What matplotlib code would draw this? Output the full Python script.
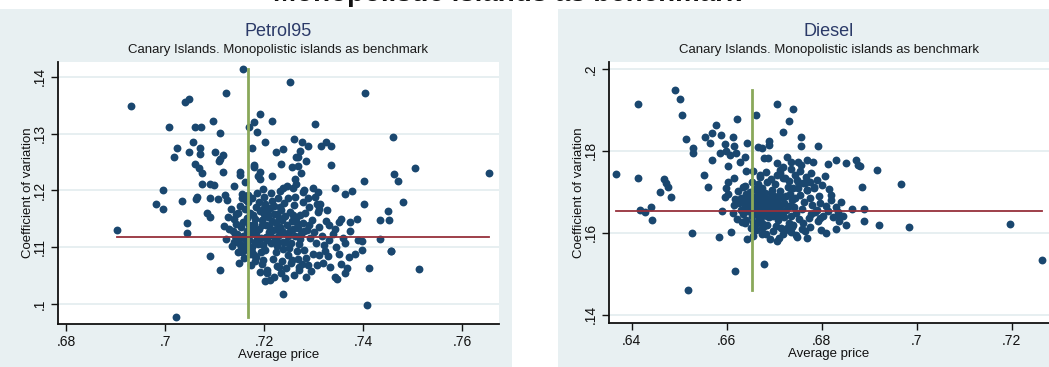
import numpy as np
import matplotlib.pyplot as plt
from matplotlib.patches import Rectangle
from matplotlib.ticker import FuncFormatter

plt.rcParams['font.family'] = ['Liberation Sans', 'DejaVu Sans']

# Petrol95: (average price, coefficient of variation) per station
petrol_points = [
    (.7158, .1414), (.7252, .1390), (.7404, .1372), (.6931, .1348), (.7124, .1372), (.7041, .1355),
    (.7049, .1361), (.7008, .1311), (.7061, .1311), (.7072, .1311), (.7096, .1323), (.7111, .1301),
    (.7170, .1311), (.7179, .1320), (.7192, .1335), (.7215, .1323), (.7303, .1317), (.7461, .1294),
    (.7185, .1302), (.7201, .1286), (.7260, .1291), (.7277, .1285), (.7288, .1278), (.7315, .1278),
    (.7325, .1285), (.7334, .1278), (.7175, .1275), (.7223, .1268), (.7239, .1273), (.7272, .1270),
    (.7264, .1258), (.7269, .1258), (.7234, .1247), (.7256, .1242), (.7269, .1243), (.7285, .1251),
    (.7334, .1244), (.7024, .1275), (.7018, .1258), (.7049, .1267), (.7057, .1285), (.7070, .1274),
    (.7070, .1264), (.7101, .1267), (.7116, .1262), (.7111, .1255), (.7108, .1252), (.7060, .1247),
    (.7068, .1239), (.7075, .1230), (.7116, .1233), (.7152, .1233), (.7152, .1227), (.7179, .1245),
    (.7179, .1241), (.7192, .1233), (.7192, .1221), (.7188, .1225), (.7215, .1226), (.7262, .1221),
    (.7274, .1230), (.7075, .1212), (.7091, .1212), (.7099, .1210), (.7139, .1208), (.7161, .1215),
    (.7238, .1205), (.7259, .1205), (.7278, .1197), (.7299, .1204), (.7309, .1197), (.7344, .1204),
    (.7363, .1194), (.7378, .1199), (.7402, .1217), (.7462, .1229), (.7471, .1217), (.6996, .1201),
    (.6982, .1176), (.6996, .1167), (.7035, .1181), (.7063, .1185), (.7065, .1189), (.7091, .1187),
    (.7106, .1185), (.7122, .1192), (.7126, .1183), (.7156, .1193), (.7156, .1186), (.7085, .1160),
    (.7090, .1153), (.7128, .1153), (.7144, .1158), (.7119, .1138), (.7045, .1143), (.7045, .1125),
    (.6904, .1131), (.7091, .1084), (.7111, .1060), (.7150, .1073), (.7156, .1091), (.7201, .1040),
    (.7239, .1017), (.7022, .0977), (.7408, .0999), (.7402, .1176), (.7449, .1164), (.7433, .1148),
    (.7451, .1148), (.7433, .1115), (.7456, .1094), (.7412, .1064), (.7398, .1111), (.7388, .1149),
    (.7374, .1145), (.7356, .1149), (.7351, .1144), (.7331, .1139), (.7344, .1133), (.7327, .1165),
    (.7307, .1177), (.7311, .1168), (.7289, .1186), (.7364, .1107), (.7371, .1083), (.7383, .1089),
    (.7356, .1070), (.7364, .1054), (.7348, .1045), (.7333, .1065), (.7344, .1047), (.7323, .1093),
    (.7311, .1086), (.7289, .1068), (.7285, .1047), (.7270, .1065), (.7270, .1060), (.7256, .1078),
    (.7230, .1065), (.7234, .1054), (.7205, .1060), (.7205, .1054), (.7220, .1048), (.7183, .1083),
    (.7197, .1077), (.7168, .1101), (.7176, .1092), (.7505, .1239), (.7654, .1230), (.7513, .1061),
    (.7481, .1180), (.7457, .1093),
    # dense core around the mean
    (.7162, .1168), (.7165, .1152), (.7169, .1139), (.7173, .1124), (.7170, .1112), (.7164, .1105),
    (.7158, .1120), (.7154, .1135), (.7150, .1116), (.7146, .1123), (.7142, .1119), (.7149, .1108),
    (.7153, .1101), (.7160, .1096), (.7176, .1100), (.7181, .1110), (.7184, .1127), (.7180, .1141),
    (.7178, .1156), (.7183, .1171), (.7189, .1180), (.7192, .1163), (.7195, .1148), (.7190, .1132),
    (.7194, .1117), (.7198, .1104), (.7202, .1095), (.7206, .1112), (.7209, .1126), (.7204, .1140),
    (.7208, .1154), (.7212, .1169), (.7216, .1182), (.7219, .1158), (.7223, .1143), (.7218, .1130),
    (.7221, .1116), (.7226, .1102), (.7229, .1121), (.7233, .1136), (.7230, .1151), (.7235, .1166),
    (.7240, .1178), (.7243, .1155), (.7246, .1140), (.7241, .1125), (.7245, .1110), (.7250, .1098),
    (.7253, .1128), (.7256, .1146), (.7252, .1162), (.7260, .1174), (.7264, .1152), (.7268, .1134),
    (.7262, .1119), (.7270, .1106), (.7275, .1123), (.7279, .1142), (.7283, .1160), (.7287, .1131),
    (.7292, .1117), (.7296, .1148), (.7300, .1126), (.7305, .1108), (.7310, .1135), (.7316, .1119),
    (.7320, .1104), (.7167, .1179), (.7175, .1186), (.7199, .1188), (.7227, .1186), (.7186, .1195),
    (.7201, .1176), (.7214, .1107), (.7238, .1109), (.7224, .1091), (.7193, .1092), (.7172, .1089),
    (.7248, .1087), (.7266, .1094), (.7281, .1096), (.7157, .1145), (.7144, .1141), (.7140, .1109),
    (.7137, .1128), (.7187, .1106), (.7210, .1138), (.7237, .1148), (.7259, .1132), (.7273, .1156),
    (.7290, .1171), (.7308, .1162), (.7313, .1177), (.7298, .1089), (.7285, .1082), (.7269, .1080),
    (.7254, .1073), (.7236, .1076), (.7217, .1079), (.7196, .1070), (.7182, .1075), (.7179, .1086),
    (.7161, .1115), (.7205, .1162), (.7220, .1173), (.7249, .1186), (.7263, .1189), (.7278, .1180),
    (.7303, .1188), (.7324, .1147), (.7330, .1112), (.7338, .1124), (.7346, .1100), (.7352, .1089),
    (.7360, .1116), (.7373, .1129), (.7389, .1113), (.7397, .1096), (.7368, .1063), (.7328, .1084),
    (.7318, .1073), (.7306, .1069), (.7294, .1058), (.7260, .1051), (.7242, .1046), (.7225, .1067),
    (.7191, .1056), (.7211, .1043), (.7174, .1068), (.7168, .1192), (.7197, .1203), (.7213, .1196),
    (.7232, .1199), (.7247, .1207), (.7265, .1211), (.7280, .1200), (.7163, .1184), (.7151, .1173),
    (.7148, .1161), (.7133, .1168), (.7139, .1149), (.7129, .1132), (.7123, .1114), (.7135, .1102),
    (.7147, .1091), (.7159, .1082), (.7244, .1063), (.7277, .1071),
    (.7171, .1160), (.7177, .1133), (.7186, .1118), (.7196, .1139), (.7200, .1158), (.7211, .1121),
    (.7215, .1147), (.7225, .1158), (.7228, .1110), (.7236, .1128), (.7239, .1097), (.7248, .1119),
    (.7255, .1107), (.7258, .1156), (.7266, .1143), (.7272, .1114), (.7280, .1128), (.7291, .1139),
    (.7166, .1129), (.7182, .1150), (.7203, .1118), (.7232, .1170), (.7198, .1168), (.7226, .1133),
]

# Diesel: (average price, coefficient of variation) per station
diesel_points = [
    (.6491, .1949), (.6501, .1927), (.6412, .1915), (.6506, .1888), (.6705, .1915), (.6740, .1903),
    (.6661, .1887), (.6622, .1877), (.6730, .1872), (.6719, .1846), (.6578, .1863), (.6514, .1828),
    (.6554, .1835), (.6568, .1843), (.6564, .1819), (.6587, .1839), (.6596, .1818), (.6612, .1835),
    (.6615, .1813), (.6643, .1819), (.6665, .1809), (.6675, .1806), (.6689, .1825), (.6689, .1815),
    (.6756, .1833), (.6756, .1813), (.6791, .1813), (.6528, .1807), (.6528, .1794), (.6585, .1796),
    (.6599, .1801), (.6606, .1791), (.6619, .1795), (.6568, .1778), (.6627, .1772), (.6638, .1784),
    (.6603, .1763), (.6679, .1782), (.6686, .1782), (.6726, .1784), (.6705, .1770), (.6719, .1760),
    (.6712, .1753), (.6736, .1774), (.6750, .1774), (.6757, .1766), (.6768, .1778), (.6782, .1774),
    (.6813, .1769), (.6829, .1778), (.6851, .1770), (.6872, .1778), (.6875, .1766), (.6880, .1762),
    (.6915, .1754), (.6966, .1720), (.6366, .1744), (.6414, .1735), (.6468, .1732), (.6473, .1721),
    (.6476, .1711), (.6482, .1688), (.6460, .1699), (.6441, .1663), (.6417, .1657), (.6427, .1650),
    (.6443, .1632), (.6527, .1599), (.6552, .1742), (.6560, .1711), (.6603, .1725), (.6616, .1733),
    (.6599, .1709), (.6596, .1688), (.6603, .1696), (.6589, .1654), (.6616, .1667), (.6634, .1711),
    (.6638, .1623), (.6608, .1601), (.6584, .1589), (.6643, .1586), (.6656, .1592), (.6678, .1524),
    (.6617, .1508), (.6519, .1461), (.6641, .1752), (.6656, .1752), (.6669, .1742), (.6683, .1748),
    (.6705, .1742), (.6719, .1734), (.6730, .1726), (.6747, .1729), (.6761, .1721), (.6775, .1725),
    (.6783, .1709), (.6750, .1709), (.6768, .1705), (.6794, .1689), (.6820, .1681), (.6809, .1666),
    (.6829, .1664), (.6834, .1650), (.6833, .1644), (.6789, .1657), (.6778, .1646), (.6796, .1636),
    (.6803, .1640), (.6798, .1607), (.6836, .1628), (.6885, .1711), (.6888, .1658), (.6888, .1628),
    (.6921, .1618), (.6983, .1615), (.6764, .1605), (.6747, .1590), (.6705, .1581), (.6730, .1623),
    (.6737, .1615), (.6722, .1607), (.6698, .1644), (.6708, .1636), (.6715, .1611), (.6683, .1597),
    (.6673, .1597), (.6662, .1622), (.6678, .1616), (.7196, .1621), (.7264, .1534),
    # dense core around the mean
    (.6640, .1695), (.6646, .1682), (.6651, .1670), (.6658, .1658), (.6663, .1647), (.6652, .1641),
    (.6644, .1653), (.6638, .1666), (.6635, .1679), (.6649, .1699), (.6659, .1706), (.6666, .1691),
    (.6671, .1678), (.6676, .1664), (.6682, .1652), (.6675, .1640), (.6668, .1633), (.6689, .1638),
    (.6694, .1650), (.6690, .1668), (.6686, .1683), (.6681, .1697), (.6674, .1710), (.6695, .1705),
    (.6700, .1691), (.6704, .1675), (.6709, .1660), (.6714, .1646), (.6707, .1632), (.6720, .1638),
    (.6725, .1655), (.6721, .1672), (.6716, .1687), (.6712, .1702), (.6728, .1713), (.6733, .1694),
    (.6737, .1679), (.6742, .1663), (.6746, .1648), (.6751, .1634), (.6758, .1659), (.6763, .1676),
    (.6755, .1692), (.6769, .1704), (.6774, .1685), (.6780, .1667), (.6786, .1651), (.6772, .1636),
    (.6760, .1625), (.6740, .1619), (.6727, .1612), (.6703, .1616), (.6685, .1619), (.6698, .1604),
    (.6718, .1596), (.6735, .1603), (.6660, .1665), (.6669, .1656), (.6655, .1685), (.6679, .1689),
    (.6692, .1677), (.6680, .1662), (.6662, .1679), (.6670, .1669), (.6650, .1663), (.6642, .1669),
    (.6630, .1686), (.6626, .1672), (.6629, .1656), (.6633, .1645), (.6641, .1632), (.6656, .1626),
    (.6673, .1624), (.6706, .1643), (.6710, .1689), (.6739, .1709), (.6749, .1724), (.6766, .1736),
    (.6789, .1728), (.6801, .1717), (.6815, .1706), (.6797, .1674), (.6812, .1654), (.6823, .1639),
    (.6844, .1642), (.6850, .1620), (.6863, .1659), (.6841, .1675), (.6820, .1693), (.6806, .1739),
    (.6778, .1746), (.6753, .1750), (.6734, .1757), (.6711, .1746), (.6693, .1731), (.6670, .1736),
    (.6652, .1724), (.6639, .1714), (.6624, .1701), (.6618, .1682), (.6665, .1719), (.6684, .1724),
    (.6702, .1720), (.6723, .1735), (.6744, .1740), (.6764, .1721), (.6783, .1712), (.6775, .1615),
    (.6792, .1629), (.6759, .1609), (.6746, .1595), (.6710, .1588), (.6691, .1584), (.6674, .1613),
    (.6661, .1606), (.6650, .1611), (.6631, .1627), (.6621, .1634), (.6613, .1648), (.6830, .1609),
    (.6808, .1600), (.6768, .1587),
    (.6645, .1662), (.6654, .1676), (.6661, .1690), (.6667, .1648), (.6673, .1699), (.6678, .1675),
    (.6684, .1640), (.6688, .1657), (.6696, .1688), (.6699, .1662), (.6702, .1647), (.6707, .1682),
    (.6713, .1668), (.6719, .1652), (.6724, .1690), (.6731, .1666), (.6736, .1642), (.6744, .1685),
    (.6648, .1689), (.6657, .1650), (.6665, .1701), (.6683, .1666), (.6692, .1697), (.6697, .1640),
]

# mean price / mean coefficient of variation reference lines
petrol_mean_price, petrol_mean_cv = .7167, .1118
diesel_mean_price, diesel_mean_cv = .6653, .1654

panels = [
    dict(name='Petrol95', pts=petrol_points, mp=petrol_mean_price, mc=petrol_mean_cv,
         xlim=(.6784, .7674), ylim=(.0965, .1426),
         xticks=[.68, .7, .72, .74, .76], yticks=[.1, .11, .12, .13, .14],
         bg=(0, 512), ax=(58, 499, 62, 324)),
    dict(name='Diesel', pts=diesel_points, mp=diesel_mean_price, mc=diesel_mean_cv,
         xlim=(.6352, .7278), ylim=(.1380, .2017),
         xticks=[.64, .66, .68, .7, .72], yticks=[.14, .16, .18, .2],
         bg=(558, 1049), ax=(609, 1049, 62, 323)),
]

W, H = 1049, 367
BG = '#e8f0f2'
NAVY = '#1a476f'

fig = plt.figure(figsize=(W / 100, H / 100), dpi=100)
fig.patch.set_facecolor('white')

fmt = FuncFormatter(lambda v, _: f'{v:g}'.replace('0.', '.', 1))

for p in panels:
    x0, x1 = p['bg']
    fig.patches.append(Rectangle((x0 / W, 0), (x1 - x0) / W, (H - 9) / H,
                                 transform=fig.transFigure, facecolor=BG,
                                 edgecolor='none', zorder=-5))
    l, r, t, b = p['ax']
    ax = fig.add_axes([l / W, (H - b) / H, (r - l) / W, (b - t) / H])
    ax.set_facecolor('white')

    xs = np.array([q[0] for q in p['pts']])
    ys = np.array([q[1] for q in p['pts']])

    ax.scatter(xs, ys, s=32, color=NAVY, linewidths=0, zorder=3)
    ax.plot([p['mp'], p['mp']], [ys.min(), ys.max()], color='#8aa85a', lw=2, zorder=4)
    ax.plot([xs.min(), xs.max()], [p['mc'], p['mc']], color='#96303b', lw=1.3, zorder=4)

    ax.set_xlim(*p['xlim'])
    ax.set_ylim(*p['ylim'])
    ax.set_xticks(p['xticks'])
    ax.set_yticks(p['yticks'])
    ax.xaxis.set_major_formatter(fmt)
    ax.yaxis.set_major_formatter(fmt)
    ax.grid(axis='y', color='#e3ecef', lw=1.2, zorder=0)
    ax.set_axisbelow(True)
    for s in ('top', 'right'):
        ax.spines[s].set_visible(False)
    for s in ('left', 'bottom'):
        ax.spines[s].set_linewidth(1.3)
        ax.spines[s].set_color('#111111')
    ax.tick_params(direction='out', length=5, width=1, labelsize=10, colors='#111111', pad=3)
    ax.tick_params(axis='y', labelrotation=90)
    for lab in ax.get_yticklabels():
        lab.set_va('center')

    ax.set_xlabel('Average price', fontsize=9.5, labelpad=0, color='#111111')
    ax.set_ylabel('Coefficient of variation', fontsize=9.5, labelpad=-1, color='#111111')

    cx = (l + r) / 2 / W
    fig.text(cx, 1 - 32 / H, p['name'], ha='center', va='center', fontsize=13, color='#2b3a68')
    fig.text(cx, 1 - 50 / H, 'Canary Islands. Monopolistic islands as benchmark',
             ha='center', va='center', fontsize=9.5, color='#1a1a1a')

# overall heading, mostly above the top edge
fig.text(507 / W, 1 - 1 / H, 'Monopolistic islands as benchmark', ha='center', va='baseline',
         fontsize=20, fontweight='bold', color='#111111')

fig.savefig('out.png', dpi=100, facecolor='white')
